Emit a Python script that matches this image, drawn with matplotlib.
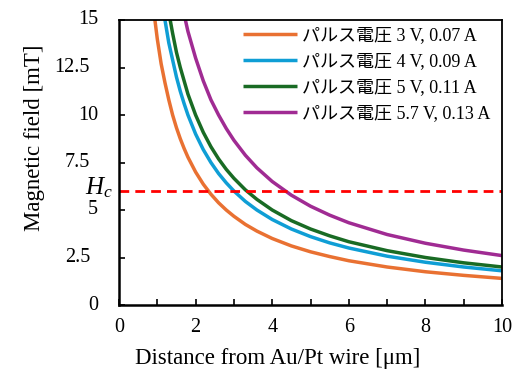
import matplotlib
matplotlib.use("Agg")
import matplotlib.pyplot as plt
from matplotlib.ticker import MultipleLocator

plt.rcParams["font.family"] = ["Liberation Serif", "Noto Sans CJK JP", "DejaVu Sans"]
plt.rcParams["mathtext.fontset"] = "custom"
plt.rcParams["mathtext.rm"] = "Liberation Serif"
plt.rcParams["mathtext.it"] = "Liberation Serif:italic"

# values
distance = [0.9, 1.0, 1.1, 1.2, 1.3, 1.4, 1.5, 1.6, 1.7, 1.8, 2.0, 2.2, 2.4, 2.6, 2.8,
            3.0, 3.3, 3.6, 4.0, 4.5, 5.0, 5.5, 6.0, 7.0, 8.0, 9.0, 10.0]
field_3v = [15.6, 14.0, 12.7, 11.7, 10.8, 10.0, 9.33, 8.75, 8.24, 7.78, 7.0, 6.36, 5.83, 5.38,
            5.0, 4.67, 4.24, 3.89, 3.5, 3.11, 2.8, 2.55, 2.33, 2.0, 1.75, 1.56, 1.4]
field_4v = [20.0, 18.0, 16.4, 15.0, 13.8, 12.9, 12.0, 11.25, 10.6, 10.0, 9.0, 8.18, 7.5, 6.92,
            6.43, 6.0, 5.45, 5.0, 4.5, 4.0, 3.6, 3.27, 3.0, 2.57, 2.25, 2.0, 1.8]
field_5v = [22.2, 20.0, 18.2, 16.7, 15.4, 14.3, 13.3, 12.5, 11.8, 11.1, 10.0, 9.09, 8.33, 7.69,
            7.14, 6.67, 6.06, 5.56, 5.0, 4.44, 4.0, 3.64, 3.33, 2.86, 2.5, 2.22, 2.0]
field_57v = [28.9, 26.0, 23.6, 21.7, 20.0, 18.6, 17.3, 16.25, 15.3, 14.4, 13.0, 11.8, 10.8, 10.0,
             9.29, 8.67, 7.88, 7.22, 6.5, 5.78, 5.2, 4.73, 4.33, 3.71, 3.25, 2.89, 2.6]
labels = ["パルス電圧 3 V, 0.07 A", "パルス電圧 4 V, 0.09 A",
          "パルス電圧 5 V, 0.11 A", "パルス電圧 5.7 V, 0.13 A"]
hc = 6.0
y_ticks = [0, 2.5, 5, 7.5, 10, 12.5, 15]
y_tick_labels = ["0", "2.5", "5", "7.5", "10", "12.5", "15"]

colors = ["#E97132", "#0F9ED5", "#196B24", "#A02B93"]
W, H = 531, 371
AX_W = 383
fig = plt.figure(figsize=(W / 100, H / 100), dpi=100)
ax = fig.add_axes([119 / W, 1 - 305 / H, AX_W / W, 285 / H])

for ys, lab, c in zip([field_3v, field_4v, field_5v, field_57v], labels, colors):
    ax.plot(distance, ys, color=c, lw=2.5, label=lab, solid_capstyle="butt")
ax.axhline(hc, color="#FF0000", lw=2, ls=(0, (3.5, 2.2)))

ax.set_xlim(0, 10); ax.set_ylim(0, 15)
ax.xaxis.set_major_locator(MultipleLocator(2)); ax.xaxis.set_minor_locator(MultipleLocator(1))
ax.set_yticks(y_ticks); ax.set_yticklabels([])
ax.tick_params(axis="both", which="both", direction="in", length=4, width=1.2,
               labelsize=14.5, top=False, right=False)
ax.tick_params(axis="x", pad=9)
for s in ["left", "bottom"]:
    ax.spines[s].set_linewidth(1.8)
for s in ["top", "right"]:
    ax.spines[s].set_linewidth(1.3)

# y tick labels drawn as text so decimals sit further left, as in the original
ytr = ax.get_yaxis_transform()
for v, t in zip(y_ticks, y_tick_labels):
    off = -29 if "." in t else -21
    ax.text(off / AX_W, v, t, transform=ytr, ha="right", va="center", fontsize=14.5)

ax.text(-6 / AX_W, hc + 0.16, r"$H_c$", transform=ytr, ha="right", va="center", fontsize=18)

fig.text(35 / W, 1 - 137.5 / H, "Magnetic field [mT]", rotation=90, ha="center",
         va="center", fontsize=16.5)
fig.text(278 / W, 2 / H, "Distance from Au/Pt wire [μm]", ha="center",
         va="bottom", fontsize=16.5)

ax.legend(loc="upper left", bbox_to_anchor=(243 / W, 1 - 27 / H),
          bbox_transform=fig.transFigure, frameon=False, fontsize=13,
          handlelength=3.0, handletextpad=0.28, labelspacing=0.5,
          borderpad=0, borderaxespad=0)

fig.savefig("out.png", dpi=100)
